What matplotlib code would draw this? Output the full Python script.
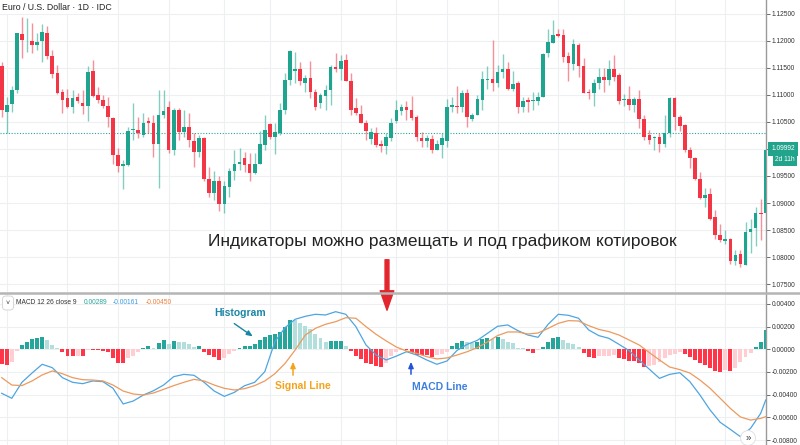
import numpy as np
import matplotlib
matplotlib.use("Agg")
import matplotlib.pyplot as plt
from matplotlib.patches import FancyArrowPatch

plt.rcParams['font.family'] = ['Liberation Sans', 'DejaVu Sans']

# daily candles EUR/USD
opens = [1.1154, 1.1069, 1.1083, 1.1109, 1.1213, 1.1201, 1.1200, 1.1193, 1.1200, 1.1215,
         1.1172, 1.1140, 1.1105, 1.1095, 1.1078, 1.1096, 1.1086, 1.1080, 1.1145, 1.1100,
         1.1091, 1.1080, 1.1057, 1.0989, 1.0969, 1.0970, 1.1035, 1.1035, 1.1025, 1.1051,
         1.1049, 1.1009, 1.1063, 1.1077, 1.0999, 1.1072, 1.1032, 1.1041, 1.1014, 1.0994,
         1.1020, 1.0944, 1.0918, 1.0940, 1.0899, 1.0930, 1.0960, 1.0972, 1.0983, 1.0972,
         1.0955, 1.0972, 1.1007, 1.1046, 1.1023, 1.1030, 1.1072, 1.1127, 1.1145, 1.1148,
         1.1123, 1.1131, 1.1105, 1.1085, 1.1099, 1.1110, 1.1152, 1.1149, 1.1165, 1.1126,
         1.1075, 1.1065, 1.1049, 1.1018, 1.1029, 1.1009, 1.1006, 1.1021, 1.1051, 1.1071,
         1.1077, 1.1072, 1.1059, 1.1020, 1.1014, 1.1018, 1.0999, 1.1007, 1.1015, 1.1078,
         1.1080, 1.1077, 1.1103, 1.1055, 1.1063, 1.1091, 1.1128, 1.1130, 1.1122, 1.1143,
         1.1148, 1.1112, 1.1122, 1.1077, 1.1090, 1.1088, 1.1089, 1.1096, 1.1177, 1.1197,
         1.1213, 1.1212, 1.1172, 1.1157, 1.1193, 1.1153, 1.1106, 1.1104, 1.1122, 1.1134,
         1.1128, 1.1149, 1.1137, 1.1091, 1.1092, 1.1081, 1.1092, 1.1055, 1.1026, 1.1021,
         1.1022, 1.1009, 1.1030, 1.1094, 1.1059, 1.1044, 1.0998, 1.0983, 1.0944, 1.0910,
         1.0916, 1.0875, 1.0841, 1.0830, 1.0834, 1.0792, 1.0805, 1.0786, 1.0846, 1.0853,
         1.0882, 1.0882]
highs = [1.1162, 1.1097, 1.1117, 1.1215, 1.1245, 1.1242, 1.1233, 1.1214, 1.1231, 1.1228,
         1.1183, 1.1156, 1.1112, 1.1112, 1.1109, 1.1103, 1.1110, 1.1154, 1.1164, 1.1114,
         1.1100, 1.1097, 1.1060, 1.1001, 1.0980, 1.1040, 1.1085, 1.1060, 1.1066, 1.1060,
         1.1063, 1.1109, 1.1110, 1.1088, 1.1075, 1.1075, 1.1072, 1.1066, 1.1029, 1.1026,
         1.1023, 1.0967, 1.0960, 1.0950, 1.0940, 1.0964, 1.0998, 1.1001, 1.0995, 1.0992,
         1.0992, 1.1034, 1.1063, 1.1048, 1.1048, 1.1085, 1.1140, 1.1183, 1.1180, 1.1162,
         1.1137, 1.1163, 1.1112, 1.1103, 1.1119, 1.1156, 1.1177, 1.1174, 1.1176, 1.1140,
         1.1094, 1.1081, 1.1054, 1.1038, 1.1041, 1.1017, 1.1030, 1.1057, 1.1091, 1.1083,
         1.1088, 1.1098, 1.1063, 1.1032, 1.1026, 1.1026, 1.1017, 1.1029, 1.1092, 1.1097,
         1.1117, 1.1109, 1.1112, 1.1066, 1.1100, 1.1145, 1.1154, 1.1201, 1.1156, 1.1175,
         1.1162, 1.1145, 1.1125, 1.1096, 1.1096, 1.1106, 1.1106, 1.1177, 1.1222, 1.1239,
         1.1223, 1.1223, 1.1180, 1.1203, 1.1197, 1.1168, 1.1112, 1.1130, 1.1150, 1.1150,
         1.1164, 1.1174, 1.1141, 1.1101, 1.1117, 1.1097, 1.1109, 1.1063, 1.1035, 1.1024,
         1.1030, 1.1063, 1.1096, 1.1096, 1.1063, 1.1047, 1.1004, 1.0985, 1.0958, 1.0927,
         1.0927, 1.0887, 1.0861, 1.0850, 1.0836, 1.0813, 1.0813, 1.0864, 1.0870, 1.0893,
         1.0908, 1.0999]
lows = [1.1060, 1.1029, 1.1069, 1.1104, 1.1168, 1.1180, 1.1177, 1.1183, 1.1162, 1.1166,
        1.1131, 1.1102, 1.1067, 1.1075, 1.1066, 1.1085, 1.1064, 1.1052, 1.1096, 1.1085,
        1.1075, 1.1041, 1.0973, 1.0958, 1.0926, 1.0969, 1.1017, 1.1020, 1.1023, 1.1029,
        1.0986, 1.0927, 1.1057, 1.0992, 1.0989, 1.1017, 1.1023, 1.1004, 1.0967, 1.0986,
        1.0940, 1.0912, 1.0906, 1.0886, 1.0881, 1.0912, 1.0943, 1.0961, 1.0958, 1.0941,
        1.0954, 1.0972, 1.0998, 1.1018, 1.0991, 1.1026, 1.1065, 1.1119, 1.1122, 1.1119,
        1.1106, 1.1094, 1.1072, 1.1075, 1.1073, 1.1081, 1.1143, 1.1127, 1.1125, 1.1063,
        1.1063, 1.1048, 1.1017, 1.1010, 1.1003, 1.0995, 1.0991, 1.1014, 1.1048, 1.1063,
        1.1054, 1.1054, 1.1015, 1.1004, 1.1004, 1.0993, 1.0999, 1.0983, 1.1004, 1.1069,
        1.1066, 1.1069, 1.1040, 1.1052, 1.1063, 1.1072, 1.1111, 1.1107, 1.1114, 1.1131,
        1.1110, 1.1108, 1.1066, 1.1069, 1.1069, 1.1072, 1.1081, 1.1096, 1.1171, 1.1196,
        1.1208, 1.1162, 1.1125, 1.1146, 1.1134, 1.1103, 1.1092, 1.1079, 1.1112, 1.1106,
        1.1119, 1.1125, 1.1083, 1.1079, 1.1072, 1.1069, 1.1038, 1.1017, 1.1010, 1.0998,
        1.0995, 1.1004, 1.1023, 1.1035, 1.1034, 1.0995, 1.0964, 1.0943, 1.0908, 1.0892,
        1.0869, 1.0834, 1.0828, 1.0825, 1.0787, 1.0786, 1.0781, 1.0786, 1.0807, 1.0820,
        1.0831, 1.0882]
closes = [1.1072, 1.1081, 1.1109, 1.1214, 1.1201, 1.1202, 1.1193, 1.1199, 1.1216, 1.1172,
          1.1139, 1.1104, 1.1091, 1.1077, 1.1095, 1.1089, 1.1080, 1.1143, 1.1098, 1.1091,
          1.1080, 1.1059, 1.0989, 1.0969, 1.0972, 1.1033, 1.1036, 1.1029, 1.1049, 1.1048,
          1.1009, 1.1063, 1.1070, 1.0999, 1.1072, 1.1032, 1.1041, 1.1017, 1.0994, 1.1020,
          1.0944, 1.0918, 1.0940, 1.0899, 1.0931, 1.0960, 1.0972, 1.0976, 1.0970, 1.0955,
          1.0973, 1.1009, 1.1036, 1.1023, 1.1031, 1.1072, 1.1128, 1.1181, 1.1149, 1.1125,
          1.1131, 1.1105, 1.1078, 1.1100, 1.1110, 1.1152, 1.1149, 1.1163, 1.1125, 1.1073,
          1.1066, 1.1049, 1.1034, 1.1032, 1.1007, 1.1006, 1.1023, 1.1049, 1.1072, 1.1077,
          1.1072, 1.1057, 1.1022, 1.1014, 1.1021, 1.0999, 1.1009, 1.1020, 1.1078, 1.1081,
          1.1077, 1.1103, 1.1059, 1.1063, 1.1093, 1.1130, 1.1130, 1.1122, 1.1143, 1.1149,
          1.1112, 1.1120, 1.1077, 1.1089, 1.1087, 1.1090, 1.1097, 1.1175, 1.1199, 1.1211,
          1.1210, 1.1171, 1.1159, 1.1194, 1.1153, 1.1104, 1.1103, 1.1122, 1.1134, 1.1127,
          1.1149, 1.1133, 1.1088, 1.1093, 1.1081, 1.1092, 1.1055, 1.1023, 1.1017, 1.1023,
          1.1009, 1.1030, 1.1095, 1.1060, 1.1043, 1.0998, 1.0983, 1.0944, 1.0910, 1.0915,
          1.0871, 1.0840, 1.0832, 1.0834, 1.0792, 1.0803, 1.0787, 1.0847, 1.0852, 1.0881,
          1.0880, 1.0999]

# MACD (12, 26, 9)
hist = [-0.0013, -0.0014, -0.0011, -0.00015, 0.00038, 0.00068, 0.00088, 0.0010, 0.00112, 0.00082,
        0.00038, 0.0001, -0.00026, -0.00059, -0.00062, -0.00058, -0.0006, -0.00005, -0.00007, -0.0001,
        -0.00015, -0.00026, -0.00079, -0.00118, -0.00124, -0.00079, -0.00056, -0.00026, 0.00015, 0.0003,
        0.0001, 0.00059, 0.00082, 0.00044, 0.00076, 0.00065, 0.00064, 0.00044, 0.00024, 0.00026,
        -0.0002, -0.0005, -0.00065, -0.00094, -0.00079, -0.0004, -0.00015, 0.00015, 0.0003, 0.00032,
        0.00044, 0.00082, 0.00112, 0.00126, 0.00132, 0.0015, 0.002, 0.00259, 0.00255, 0.0023,
        0.00206, 0.00176, 0.00132, 0.00097, 0.00068, 0.0007, 0.00071, 0.00072, 0.00032, -0.00015,
        -0.00059, -0.00088, -0.00118, -0.00132, -0.00144, -0.00153, -0.0012, -0.0006, -0.0002, -0.00005,
        -0.0001, -0.0002, -0.0005, -0.00052, -0.00054, -0.00065, -0.0005, -0.00044, -0.0002, 0.00029,
        0.00053, 0.00074, 0.00062, 0.00053, 0.00062, 0.00091, 0.00103, 0.00091, 0.00106, 0.00091,
        0.00062, 0.00053, 0.00015, 0.00009, -0.00012, -0.00029, -0.0001, 0.00018, 0.00062, 0.00097,
        0.00112, 0.00082, 0.00053, 0.00044, 0.00024, -0.00035, -0.00065, -0.00079, -0.00059, -0.00057,
        -0.00056, -0.0005, -0.00079, -0.00085, -0.00103, -0.00105, -0.00124, -0.00153, -0.00144, -0.00138,
        -0.00115, -0.00079, -0.0005, -0.00041, -0.00026, -0.00044, -0.00065, -0.00094, -0.00124, -0.00138,
        -0.00168, -0.00191, -0.00197, -0.00182, -0.00191, -0.00162, -0.00115, -0.00065, -0.00035, 0.00018,
        0.00062, 0.0017]

line_idx = list(range(0, 151, 2)) + [151]
macd_line = [-0.00388, -0.00432, -0.00291, -0.00209, -0.00132, -0.00162, -0.0025, -0.00291, -0.00303, -0.00279,
             -0.00285, -0.00344, -0.00482, -0.00456, -0.00403, -0.00365, -0.00315, -0.00241, -0.00221, -0.00229,
             -0.00291, -0.00368, -0.00415, -0.00379, -0.00321, -0.00291, -0.00197, 0.00068, 0.00191, 0.00265,
             0.00291, 0.00309, 0.00303, 0.00332, 0.00309, 0.002, 0.00038, -0.0005, -0.00094,
             -0.0006, -0.00021, -0.0005, -0.00094, -0.00132, -0.00103, -0.00009, 0.00044, 0.00079, 0.00141,
             0.00203, 0.00215, 0.00165, 0.00126, 0.00106, 0.00221, 0.00309, 0.003, 0.00274, 0.00171,
             0.00121, 0.00097, 0.00044, -0.00012, -0.00094, -0.00176, -0.00256, -0.00221, -0.00206, -0.00285,
             -0.00403, -0.00535, -0.00644, -0.00706, -0.00771, -0.00697, -0.00565, -0.00447]
signal_line = [-0.0025, -0.00315, -0.0032, -0.00279, -0.00226, -0.00191, -0.00215, -0.0025, -0.00268, -0.00271,
               -0.00279, -0.00315, -0.00368, -0.00394, -0.00403, -0.00385, -0.00353, -0.0032, -0.00291, -0.00265,
               -0.00279, -0.00315, -0.00344, -0.00359, -0.00347, -0.0032, -0.00279, -0.00215, -0.00124, -0.00006,
               0.00126, 0.00185, 0.00221, 0.00244, 0.00279, 0.00274, 0.002, 0.00132, 0.00074,
               0.0002, -0.00015, -0.00035, -0.00065, -0.00085, -0.00076, -0.0005, -0.00021, 0.00015, 0.00065,
               0.00121, 0.00153, 0.00153, 0.00135, 0.00144, 0.00185, 0.00229, 0.00253, 0.0025, 0.00209,
               0.00176, 0.00156, 0.00126, 0.00082, 0.00038, -0.00029, -0.00094, -0.00156, -0.00179, -0.00209,
               -0.00271, -0.00344, -0.00432, -0.00521, -0.00597, -0.00624, -0.00609, -0.00594]

price_ticks = [1.075, 1.080, 1.085, 1.090, 1.095, 1.100, 1.105, 1.110, 1.115, 1.120, 1.125]
macd_ticks = [-0.008, -0.006, -0.004, -0.002, 0.0, 0.002, 0.004]
date_grid = [1, 13, 23, 33, 44, 53, 67, 78, 88, 98, 110, 123, 133, 143]
last_price = 1.09992
prev_close = 1.1029

UP = '#1fa58f'
DOWN = '#f23645'
GRID = '#edf0f3'

W, H = 800, 445
fig = plt.figure(figsize=(8, 4.45), dpi=100)
ax = fig.add_axes([0, 1 - 292 / H, 766 / W, 292 / H])
ax2 = fig.add_axes([0, 0, 766 / W, 151 / H])

x = np.arange(len(closes))
o = np.array(opens); c = np.array(closes)
cols = [UP if cc >= oo else DOWN for oo, cc in zip(o, c)]
body = np.maximum(np.abs(c - o), 0.00012)
ax.vlines(x, lows, highs, colors=cols, lw=1, alpha=0.55, zorder=2)
ax.bar(x, body, bottom=np.minimum(o, c), width=0.72, color=cols, zorder=3)
ax.axhline(prev_close, color='#26a69a', lw=0.8, ls=(0, (1, 1.5)), zorder=1)

# histogram colours like TradingView (growing / falling)
hcols = []
for i, h in enumerate(hist):
    p = hist[i - 1] if i > 0 else h
    if h >= 0:
        hcols.append('#26a69a' if h >= p else '#b2dfdb')
    else:
        hcols.append('#ff3548' if h <= p else '#ffcdd2')
ax2.bar(x, hist, width=0.78, color=hcols, zorder=2)
ax2.plot(line_idx, macd_line, color='#4ea5e0', lw=0.9, zorder=3)
ax2.plot(line_idx, signal_line, color='#ec9a5e', lw=0.9, zorder=3)


def fmt(t, hide=None):
    if hide is not None and abs(t - hide) < 1e-9:
        return ''
    return '{:.5f}'.format(t).replace('-0.00000', '0.00000')


for a, lo, hi, ticks, hide in [(ax, 1.07352, 1.12759, price_ticks, 1.100),
                               (ax2, -0.00844, 0.00488, macd_ticks, None)]:
    a.set_xlim(-0.336, 151.05)
    a.set_ylim(lo, hi)
    a.set_xticks(date_grid)
    a.set_xticklabels([])
    a.tick_params(axis='x', length=0)
    a.yaxis.tick_right()
    a.set_yticks(ticks)
    a.set_yticklabels([fmt(t, hide) for t in ticks])
    a.tick_params(axis='y', length=3, width=0.6, color='#555555', labelsize=4.8,
                  labelcolor='#333333', pad=1.2)
    a.grid(True, color=GRID, lw=0.8, zorder=0)
    a.set_axisbelow(True)
    for s in ['top', 'left', 'bottom']:
        a.spines[s].set_visible(False)
    a.spines['right'].set_color('#9a9a9a')
    a.spines['right'].set_linewidth(1)

# pane separator
fig.add_artist(plt.Line2D([0, 1], [1 - 293 / H, 1 - 293 / H], color='#b5b5b5', lw=1.8))

# title
fig.text(2 / W, 1 - 7 / H, 'Euro / U.S. Dollar · 1D · IDC', fontsize=6.3, color='#222222',
         va='center', ha='left', bbox=dict(fc='white', ec='none', pad=1.5))

# last price labels
fig.text(783 / W, 1 - 149 / H, '1.09992', fontsize=4.8, color='white', ha='center', va='center',
         bbox=dict(boxstyle='square,pad=0.5', fc='#22a38c', ec='none'))
fig.text(785 / W, 1 - 159.5 / H, '2d 11h', fontsize=4.8, color='white', ha='center', va='center',
         bbox=dict(boxstyle='square,pad=0.4', fc='#22a38c', ec='none'))

# MACD legend
fig.text(8 / W, 1 - 303 / H, '˅', fontsize=5, color='#333333', ha='center', va='center',
         bbox=dict(boxstyle='round,pad=0.5', fc='white', ec='#d0d0d0', lw=0.6))
fig.text(16 / W, 1 - 303 / H, 'MACD 12 26 close 9', fontsize=4.8, color='#333333', va='center')
fig.text(84 / W, 1 - 303 / H, '0.00289', fontsize=4.8, color='#26a69a', va='center')
fig.text(113 / W, 1 - 303 / H, '-0.00161', fontsize=4.8, color='#3d9be0', va='center')
fig.text(146 / W, 1 - 303 / H, '-0.00450', fontsize=4.8, color='#ef7f3a', va='center')

# caption and arrows
fig.text(442 / W, 1 - 241 / H, 'Индикаторы можно размещать и под графиком котировок',
         fontsize=12.5, color='#222222', ha='center', va='center')
fig.add_artist(FancyArrowPatch((387 / W, 1 - 257 / H), (387 / W, 1 - 313 / H),
                               transform=fig.transFigure, color='#e3262e', mutation_scale=14,
                               arrowstyle='simple,head_width=0.7,head_length=1.0,tail_width=0.2'))

fig.text(240 / W, 1 - 313 / H, 'Histogram', fontsize=7.5, fontweight='bold', color='#1a86a6',
         ha='center', va='center')
fig.add_artist(FancyArrowPatch((232 / W, 1 - 322 / H), (255 / W, 1 - 338 / H),
                               transform=fig.transFigure, color='#1a86a6', lw=1,
                               arrowstyle='-|>,head_width=0.15,head_length=0.35', mutation_scale=10))
fig.text(303 / W, 1 - 386 / H, 'Signal Line', fontsize=7.5, fontweight='bold', color='#f5a31a',
         ha='center', va='center')
fig.add_artist(FancyArrowPatch((293 / W, 1 - 378 / H), (293 / W, 1 - 359 / H),
                               transform=fig.transFigure, color='#f5a31a', lw=1.1,
                               arrowstyle='-|>,head_width=0.15,head_length=0.35', mutation_scale=10))
fig.text(440 / W, 1 - 387 / H, 'MACD Line', fontsize=7.5, fontweight='bold', color='#3d7fe0',
         ha='center', va='center')
fig.add_artist(FancyArrowPatch((411 / W, 1 - 377 / H), (411 / W, 1 - 359 / H),
                               transform=fig.transFigure, color='#2455d8', lw=1.1,
                               arrowstyle='-|>,head_width=0.15,head_length=0.35', mutation_scale=10))

fig.text(748 / W, 1 - 438 / H, '»', fontsize=7, color='#333333', ha='center', va='center',
         bbox=dict(boxstyle='circle,pad=0.25', fc='white', ec='#dddddd', lw=0.6))

fig.savefig('out.png', dpi=100)
